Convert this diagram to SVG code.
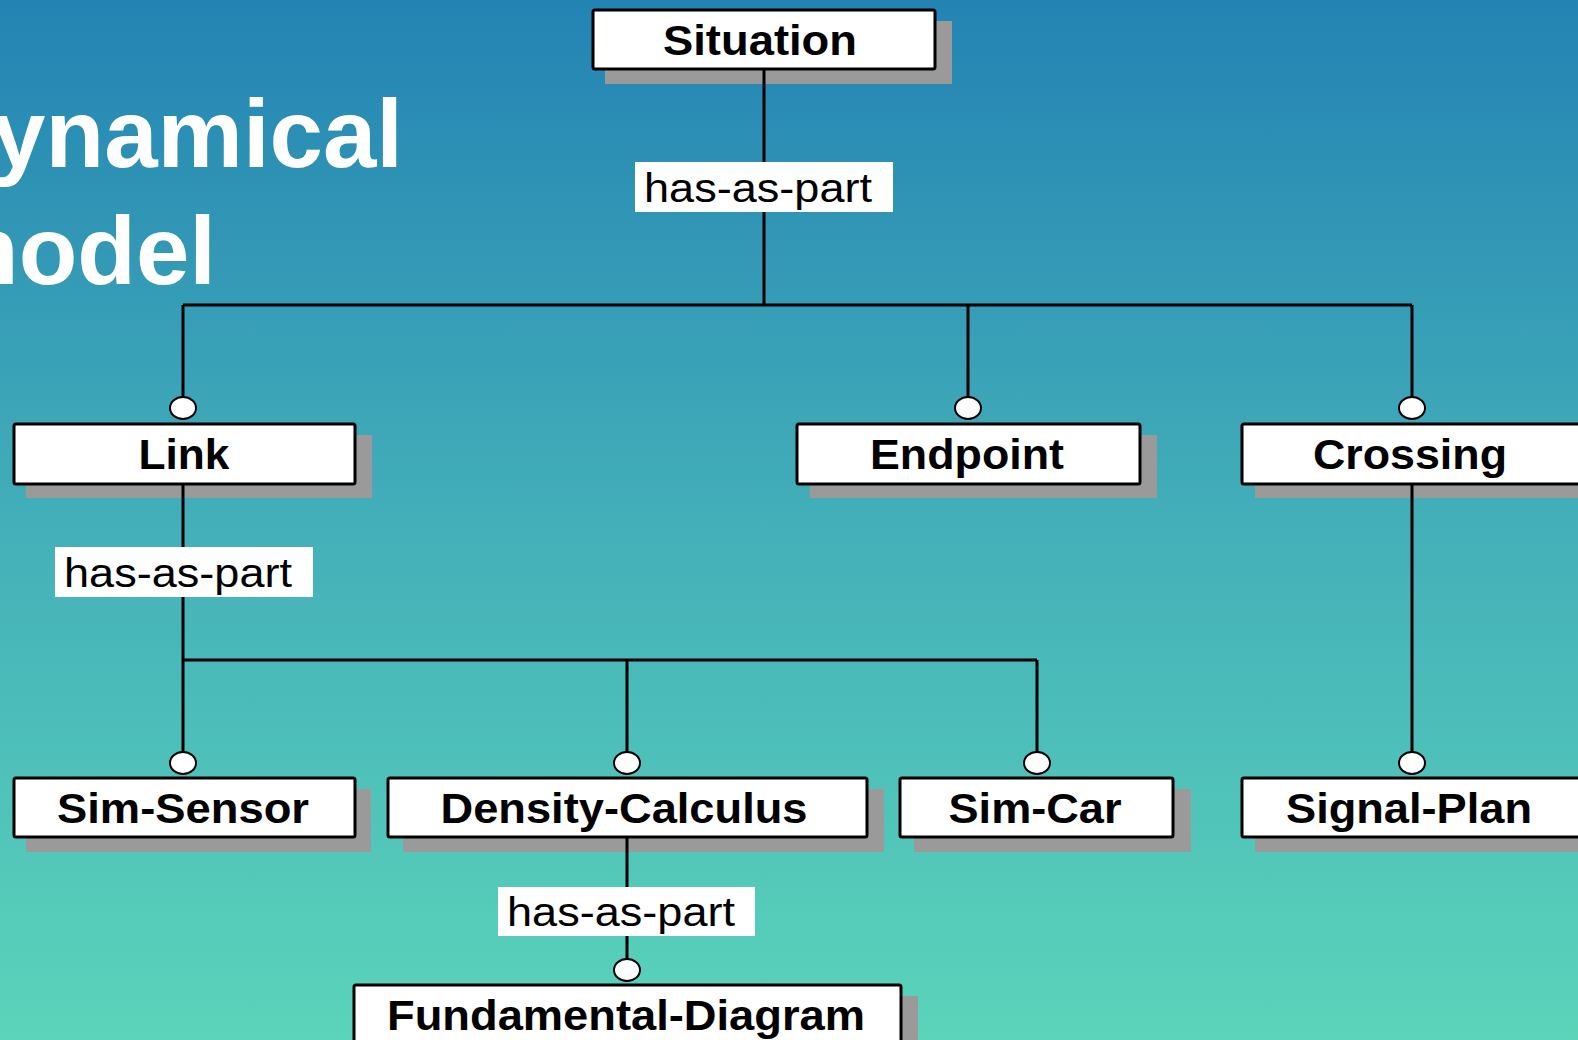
<svg xmlns="http://www.w3.org/2000/svg" width="1578" height="1040" viewBox="0 0 1578 1040">
  <defs>
    <linearGradient id="bg" x1="0" y1="0" x2="0" y2="1">
      <stop offset="0" stop-color="#2383b3"/>
      <stop offset="0.5" stop-color="#43afb9"/>
      <stop offset="1" stop-color="#5bd4ba"/>
    </linearGradient>
  </defs>
  <style>
    .title { font-family: "Liberation Sans", Arial, sans-serif; font-weight: bold; font-size: 96px; fill: #ffffff; }
    .shadow { fill: #9a9a9a; }
    .box { fill: #ffffff; stroke: #000000; stroke-width: 3; }
    .name { font-family: "Liberation Sans", Arial, sans-serif; font-weight: bold; font-size: 43px; fill: #000000; text-anchor: middle; }
    .wire { stroke: #000000; stroke-width: 3; fill: none; }
    .tip { fill: #ffffff; stroke: #000000; stroke-width: 2; }
    .tag { fill: #ffffff; }
    .rel { font-family: "Liberation Sans", Arial, sans-serif; font-size: 41px; fill: #000000; }
  </style>

  <rect x="0" y="0" width="1578" height="1040" fill="url(#bg)"/>

  <!-- slide heading, partly running off the left edge -->
  <text class="title" x="403" y="167" text-anchor="end">Dynamical</text>
  <text class="title" x="216" y="284" text-anchor="end">model</text>

  <g id="situation">
    <rect class="shadow" x="605" y="21" width="347" height="63"/>
    <rect class="box" x="593" y="10" width="342" height="59" rx="2"/>
    <text class="name" x="760" y="55" textLength="194" lengthAdjust="spacingAndGlyphs">Situation</text>
  </g>

  <g id="link">
    <rect class="shadow" x="26" y="435" width="346" height="63"/>
    <rect class="box" x="14" y="424" width="341" height="60" rx="2"/>
    <text class="name" x="184" y="469" textLength="91" lengthAdjust="spacingAndGlyphs">Link</text>
  </g>

  <g id="endpoint">
    <rect class="shadow" x="810" y="435" width="347" height="63"/>
    <rect class="box" x="797" y="424" width="343" height="60" rx="2"/>
    <text class="name" x="967" y="469" textLength="194" lengthAdjust="spacingAndGlyphs">Endpoint</text>
  </g>

  <g id="crossing">
    <rect class="shadow" x="1255" y="435" width="340" height="63"/>
    <rect class="box" x="1242" y="424" width="346" height="60" rx="2"/>
    <text class="name" x="1410" y="469" textLength="194" lengthAdjust="spacingAndGlyphs">Crossing</text>
  </g>

  <g id="sim-sensor">
    <rect class="shadow" x="26" y="789" width="345" height="63"/>
    <rect class="box" x="14" y="778" width="341" height="59" rx="2"/>
    <text class="name" x="183" y="823" textLength="252" lengthAdjust="spacingAndGlyphs">Sim-Sensor</text>
  </g>

  <g id="density-calculus">
    <rect class="shadow" x="403" y="789" width="481" height="63"/>
    <rect class="box" x="388" y="778" width="479" height="59" rx="2"/>
    <text class="name" x="624" y="823" textLength="367" lengthAdjust="spacingAndGlyphs">Density-Calculus</text>
  </g>

  <g id="sim-car">
    <rect class="shadow" x="914" y="789" width="277" height="63"/>
    <rect class="box" x="900" y="778" width="273" height="59" rx="2"/>
    <text class="name" x="1035" y="823" textLength="173" lengthAdjust="spacingAndGlyphs">Sim-Car</text>
  </g>

  <g id="signal-plan">
    <rect class="shadow" x="1255" y="789" width="340" height="63"/>
    <rect class="box" x="1242" y="778" width="346" height="59" rx="2"/>
    <text class="name" x="1409" y="823" textLength="246" lengthAdjust="spacingAndGlyphs">Signal-Plan</text>
  </g>

  <g id="fundamental-diagram">
    <rect class="shadow" x="368" y="996" width="550" height="63"/>
    <rect class="box" x="354" y="985" width="547" height="60" rx="2"/>
    <text class="name" x="626" y="1030" textLength="478" lengthAdjust="spacingAndGlyphs">Fundamental-Diagram</text>
  </g>

  <!-- part-of connectors, drawn over the drop shadows -->
  <g id="connectors">
    <!-- Situation -> Link / Endpoint / Crossing -->
    <line class="wire" x1="764" y1="69" x2="764" y2="305"/>
    <line class="wire" x1="183" y1="305" x2="1412" y2="305"/>
    <line class="wire" x1="183" y1="305" x2="183" y2="397"/>
    <line class="wire" x1="968" y1="305" x2="968" y2="397"/>
    <line class="wire" x1="1412" y1="305" x2="1412" y2="397"/>
    <ellipse class="tip" cx="183" cy="408" rx="13" ry="11"/>
    <ellipse class="tip" cx="968" cy="408" rx="13" ry="11"/>
    <ellipse class="tip" cx="1412" cy="408" rx="13" ry="11"/>
    <rect class="tag" x="635" y="162" width="258" height="50"/>
    <text class="rel" x="644" y="202" textLength="228" lengthAdjust="spacingAndGlyphs">has-as-part</text>

    <!-- Link -> Sim-Sensor / Density-Calculus / Sim-Car -->
    <line class="wire" x1="183" y1="484" x2="183" y2="752"/>
    <line class="wire" x1="183" y1="660" x2="1037" y2="660"/>
    <line class="wire" x1="627" y1="660" x2="627" y2="752"/>
    <line class="wire" x1="1037" y1="660" x2="1037" y2="752"/>
    <ellipse class="tip" cx="183" cy="763" rx="13" ry="11"/>
    <ellipse class="tip" cx="627" cy="763" rx="13" ry="11"/>
    <ellipse class="tip" cx="1037" cy="763" rx="13" ry="11"/>
    <rect class="tag" x="55" y="547" width="258" height="50"/>
    <text class="rel" x="64" y="587" textLength="228" lengthAdjust="spacingAndGlyphs">has-as-part</text>

    <!-- Crossing -> Signal-Plan -->
    <line class="wire" x1="1412" y1="484" x2="1412" y2="752"/>
    <ellipse class="tip" cx="1412" cy="763" rx="13" ry="11"/>

    <!-- Density-Calculus -> Fundamental-Diagram -->
    <line class="wire" x1="627" y1="837" x2="627" y2="959"/>
    <ellipse class="tip" cx="627" cy="970" rx="13" ry="11"/>
    <rect class="tag" x="498" y="887" width="257" height="49"/>
    <text class="rel" x="507" y="926" textLength="228" lengthAdjust="spacingAndGlyphs">has-as-part</text>
  </g>
</svg>
